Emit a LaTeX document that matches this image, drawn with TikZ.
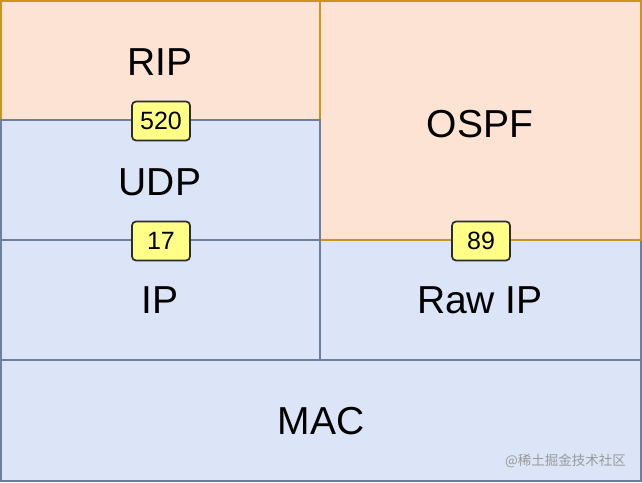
\documentclass[tikz,border=0pt]{standalone}
\usepackage{fontspec}
\setmainfont{Liberation Sans}
\newfontfamily\cjk{Noto Sans CJK SC}
\definecolor{ofill}{HTML}{FCE3D3}
\definecolor{ostroke}{HTML}{C9961A}
\definecolor{bfill}{HTML}{DCE5F7}
\definecolor{bstroke}{HTML}{6C7F9F}
\definecolor{yfill}{HTML}{FFFF88}
\definecolor{ystroke}{HTML}{2A2C2F}
\begin{document}
\begin{tikzpicture}[x=1pt,y=-1pt,
  obox/.style={fill=ofill,draw=ostroke,line width=1.6pt},
  bbox/.style={fill=bfill,draw=bstroke,line width=1.6pt},
  lbl/.style={font=\fontsize{39}{39}\selectfont,text=black},
  tag/.style={fill=yfill,draw=ystroke,line width=1.7pt,rounded corners=4pt,minimum width=58pt,minimum height=39pt,inner sep=0pt,font=\fontsize{25}{25}\selectfont}]
\useasboundingbox (0,0) rectangle (642,482);
\path[bbox] (320,240) rectangle (641.2,360);
\path[obox] (320,0.8) rectangle (641.2,240);
\path[obox] (0.8,0.8) rectangle (320,120);
\path[bbox] (0.8,120) rectangle (320,240);
\path[bbox] (0.8,240) rectangle (320,360);
\path[bbox] (0.8,360) rectangle (641.2,481.2);
\node[lbl] (rip) at (160,62) {RIP};
\node[lbl] (udp) at (160,182) {UDP};
\node[lbl] (ip) at (160,300) {IP};
\node[lbl] (ospf) at (480,124) {OSPF};
\node[lbl] (rawip) at (480,300) {Raw IP};
\node[lbl] (mac) at (321,421) {MAC};
\node[tag] (t520) at (161,121) {520};
\node[tag] (t17) at (161,241) {17};
\node[tag] (t89) at (481,241) {89};
\node[anchor=east,inner sep=0pt,text=black!40,font=\cjk\fontsize{13.5}{13.5}\selectfont] (wm) at (626,461) {@稀土掘金技术社区};
\end{tikzpicture}
\end{document}
